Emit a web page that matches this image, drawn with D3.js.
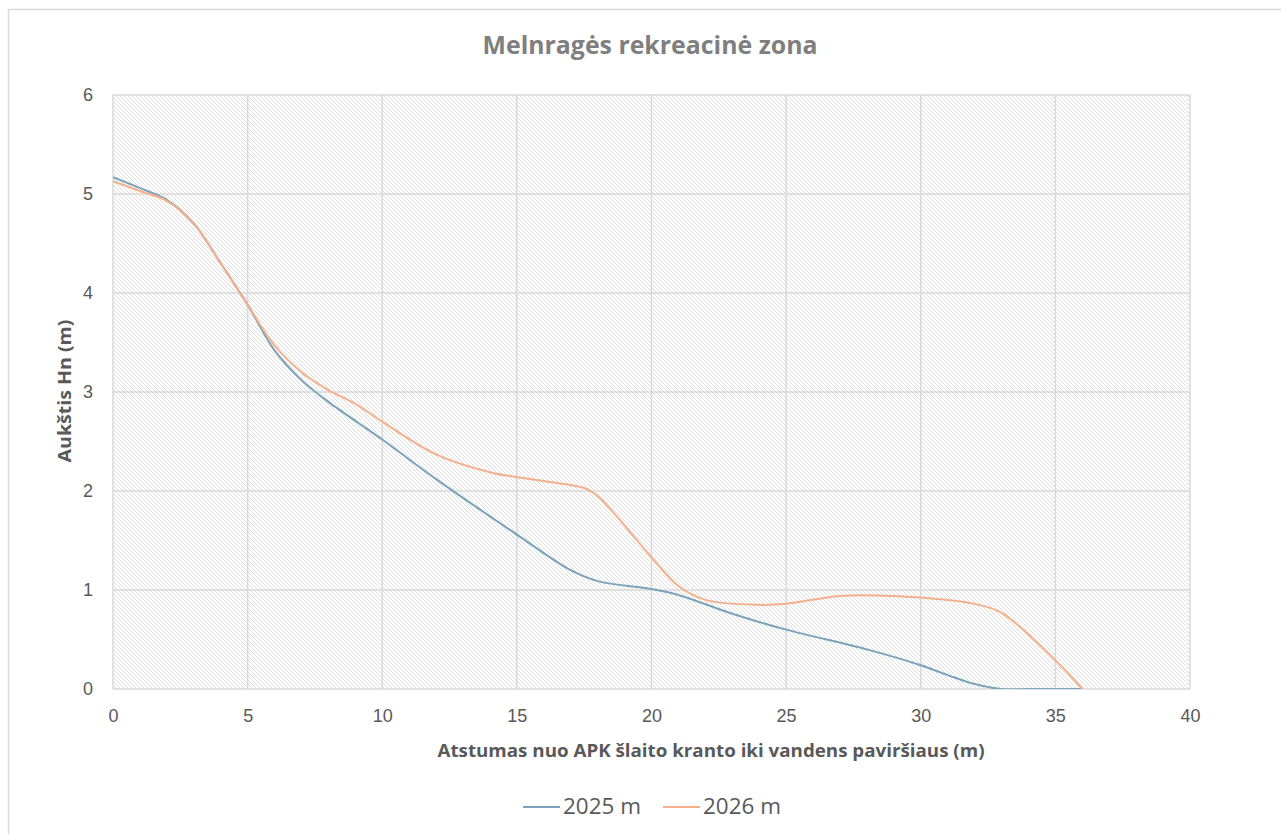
<!DOCTYPE html>
<html>
<head>
<meta charset="utf-8">
<script src="https://cdn.jsdelivr.net/npm/d3@7"></script>
<style>
  body { margin: 0; background: #fff; }
  svg text { font-family: "Open Sans", "Noto Sans", sans-serif; }
</style>
</head>
<body>
<div id="chart"></div>
<script>
var dist2025 = [0, 1, 2, 3, 4, 5, 6, 7, 8, 10, 12, 15, 17, 18, 20, 21, 23, 25, 28, 30, 31, 32, 33, 34, 35, 36];
var height2025 = [5.17, 5.06, 4.94, 4.7, 4.3, 3.88, 3.42, 3.12, 2.9, 2.52, 2.12, 1.56, 1.2, 1.09, 1.01, 0.95, 0.76, 0.6, 0.4, 0.24, 0.14, 0.05, 0, 0, 0, 0];

var dist2026 = [0, 1, 2, 3, 4, 5, 6, 7, 8, 9, 10, 12, 14, 16, 17.5, 18, 20, 21, 22, 24, 25, 27, 29, 31, 32, 33, 35, 36];
var height2026 = [5.13, 5.03, 4.93, 4.7, 4.3, 3.88, 3.47, 3.2, 3.02, 2.88, 2.7, 2.37, 2.19, 2.1, 2.03, 1.95, 1.33, 1.04, 0.9, 0.85, 0.86, 0.94, 0.94, 0.9, 0.86, 0.77, 0.29, 0];

var seriesNames = ["2025 m", "2026 m"];
var seriesColors = ["#7ba3b9", "#f4b08c"];
var xTicks = [0, 5, 10, 15, 20, 25, 30, 35, 40];
var yTicks = [0, 1, 2, 3, 4, 5, 6];

var width = 1281, height = 834;
var margin = {left: 113, right: 91, top: 95, bottom: 145};

var svg = d3.select("#chart").append("svg")
    .attr("width", width)
    .attr("height", height);

// outer chart frame (continues past the window)
svg.append("rect")
    .attr("x", 8.5).attr("y", 9.5)
    .attr("width", 1400).attr("height", 1000)
    .attr("fill", "#fff")
    .attr("stroke", "#d9d9d9")
    .attr("stroke-width", 1.5);

// hatch pattern for the plot area
var defs = svg.append("defs");
var pat = defs.append("pattern")
    .attr("id", "hatch")
    .attr("patternUnits", "userSpaceOnUse")
    .attr("width", 4).attr("height", 4);
pat.append("rect").attr("width", 4).attr("height", 4).attr("fill", "#fff");
pat.append("path")
    .attr("d", "M-1,-1 L5,5 M-1,3 L1,5 M3,-1 L5,1")
    .attr("stroke", "#dedede")
    .attr("stroke-width", 1);

var x = d3.scaleLinear().domain([0, 40]).range([margin.left, width - margin.right]);
var y = d3.scaleLinear().domain([0, 6]).range([height - margin.bottom, margin.top]);

svg.append("rect")
    .attr("x", x(0)).attr("y", y(6))
    .attr("width", x(40) - x(0))
    .attr("height", y(0) - y(6))
    .attr("fill", "url(#hatch)");

// gridlines
svg.append("g")
    .attr("class", "grid")
    .selectAll("line.h")
    .data(yTicks)
    .enter().append("line")
    .attr("x1", x(0)).attr("x2", x(40))
    .attr("y1", function(d) { return y(d); })
    .attr("y2", function(d) { return y(d); })
    .attr("stroke", "#d9d9d9")
    .attr("stroke-width", 1.5);

svg.append("g")
    .selectAll("line")
    .data(xTicks)
    .enter().append("line")
    .attr("y1", y(0)).attr("y2", y(6))
    .attr("x1", function(d) { return x(d); })
    .attr("x2", function(d) { return x(d); })
    .attr("stroke", "#d9d9d9")
    .attr("stroke-width", 1.5);

// axes (labels only)
var xAxis = d3.axisBottom(x).tickValues(xTicks).tickFormat(d3.format("d")).tickSize(0).tickPadding(20);
var yAxis = d3.axisLeft(y).tickValues(yTicks).tickFormat(d3.format("d")).tickSize(0).tickPadding(20);

var gx = svg.append("g")
    .attr("transform", "translate(0," + y(0) + ")")
    .call(xAxis);
var gy = svg.append("g")
    .attr("transform", "translate(" + x(0) + ",0)")
    .call(yAxis);

[gx, gy].forEach(function(g) {
    g.select(".domain").remove();
    g.attr("font-size", null).attr("font-family", null);
    g.selectAll("text")
        .attr("fill", "#595959")
        .style("font-size", "18px")
        .style("font-family", "'Liberation Sans', Arial, sans-serif");
});

// lines
var line = d3.line()
    .x(function(d) { return x(d[0]); })
    .y(function(d) { return y(d[1]); })
    .curve(d3.curveCatmullRom.alpha(0.5));

var series = [
    d3.zip(dist2025, height2025),
    d3.zip(dist2026, height2026)
];

svg.append("clipPath").attr("id", "clip")
    .append("rect")
    .attr("x", x(0)).attr("y", y(6) - 5)
    .attr("width", x(40) - x(0))
    .attr("height", y(0) - y(6) + 5);

series.forEach(function(s, i) {
    svg.append("path")
        .datum(s)
        .attr("d", line)
        .attr("fill", "none")
        .attr("clip-path", "url(#clip)")
        .attr("stroke", seriesColors[i])
        .attr("stroke-width", 2)
        .attr("stroke-linejoin", "round");
});

// title
svg.append("text")
    .attr("x", 650)
    .attr("y", 54)
    .attr("text-anchor", "middle")
    .attr("fill", "#7f7f7f")
    .style("font-size", "25px")
    .style("font-weight", "700")
    .attr("textLength", 335)
    .attr("lengthAdjust", "spacingAndGlyphs")
    .text("Melnragės rekreacinė zona");

// axis titles
svg.append("text")
    .attr("x", 711)
    .attr("y", 757)
    .attr("text-anchor", "middle")
    .attr("fill", "#595959")
    .style("font-size", "18px")
    .style("font-weight", "700")
    .attr("textLength", 547)
    .attr("lengthAdjust", "spacingAndGlyphs")
    .text("Atstumas nuo APK šlaito kranto iki vandens paviršiaus (m)");

svg.append("text")
    .attr("transform", "translate(71,391) rotate(-90)")
    .attr("text-anchor", "middle")
    .attr("fill", "#595959")
    .style("font-size", "18px")
    .style("font-weight", "700")
    .attr("textLength", 143)
    .attr("lengthAdjust", "spacingAndGlyphs")
    .text("Aukštis Hn (m)");

// legend
var legend = svg.append("g").attr("transform", "translate(523,807)");
var legendX = [0, 140];
seriesNames.forEach(function(name, i) {
    var g = legend.append("g").attr("transform", "translate(" + legendX[i] + ",0)");
    g.append("line")
        .attr("x1", 0).attr("x2", 37)
        .attr("y1", 0).attr("y2", 0)
        .attr("stroke", seriesColors[i])
        .attr("stroke-width", 2);
    g.append("text")
        .attr("x", 40)
        .attr("y", 7)
        .attr("fill", "#595959")
        .style("font-size", "21px")
        .attr("textLength", 78)
        .attr("lengthAdjust", "spacingAndGlyphs")
        .text(name);
});
</script>
</body>
</html>
